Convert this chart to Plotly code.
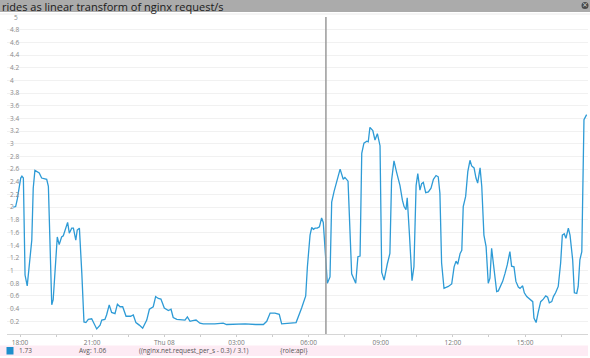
import plotly.graph_objects as go
from datetime import datetime, timedelta

title_text = "rides as linear transform of nginx request/s"

# hours after Wed 2015-01-07 18:00
t_hours = [-0.28, -0.18, -0.11, -0.03, 0.03, 0.08, 0.14, 0.21, 0.30, 0.49, 0.55, 0.62, 0.72, 0.80, 0.90,
           1.04, 1.11, 1.18, 1.32, 1.38, 1.50, 1.55, 1.63, 1.73, 1.80, 1.91, 1.98, 2.05, 2.15, 2.22,
           2.32, 2.38, 2.47, 2.57, 2.66, 2.74, 2.84, 2.98, 3.08, 3.19, 3.33, 3.40, 3.53, 3.60, 3.71,
           3.81, 3.95, 4.05, 4.16, 4.27, 4.41, 4.60, 4.71, 4.82, 4.96, 5.10, 5.27, 5.38, 5.54, 5.64,
           5.75, 5.86, 6.00, 6.17, 6.28, 6.37, 6.52, 6.86, 6.96, 7.07, 7.18, 7.32, 7.48, 7.62, 8.10,
           8.45, 8.59, 9.00, 9.36, 9.80, 10.12, 10.26, 10.40, 10.60, 10.78, 10.88, 11.09, 11.48, 11.71,
           11.88, 11.95, 12.06, 12.13, 12.20, 12.27, 12.36, 12.45, 12.54, 12.61, 12.68, 12.78, 12.89,
           12.96, 13.06, 13.17, 13.31, 13.44, 13.51, 13.64, 13.79, 13.96, 14.05, 14.14, 14.21, 14.30,
           14.42, 14.48, 14.55, 14.67, 14.76, 14.86, 14.97, 15.04, 15.14, 15.27, 15.38, 15.45, 15.55,
           15.66, 15.80, 15.90, 15.97, 16.05, 16.10, 16.19, 16.30, 16.38, 16.47, 16.54, 16.63, 16.70,
           16.77, 16.87, 16.98, 17.09, 17.19, 17.30, 17.39, 17.46, 17.53, 17.63, 17.81, 17.95, 18.05,
           18.13, 18.20, 18.30, 18.37, 18.43, 18.53, 18.62, 18.71, 18.78, 18.88, 18.96, 19.03, 19.13,
           19.20, 19.29, 19.38, 19.47, 19.54, 19.61, 19.71, 19.82, 19.89, 19.99, 20.07, 20.17, 20.26,
           20.37, 20.44, 20.54, 20.62, 20.72, 20.79, 20.90, 20.97, 21.07, 21.21, 21.32, 21.37, 21.46,
           21.55, 21.65, 21.76, 21.86, 21.94, 22.01, 22.11, 22.18, 22.27, 22.38, 22.48, 22.55, 22.63,
           22.70, 22.80, 22.87, 22.98, 23.05, 23.15, 23.21, 23.28, 23.36, 23.45, 23.56]

values = [2.00, 2.01, 2.13, 2.32, 2.46, 2.49, 2.46, 0.93, 0.76, 1.48, 2.30, 2.58, 2.55, 2.54, 2.46,
          2.45, 2.44, 2.33, 0.46, 0.54, 1.17, 1.53, 1.41, 1.53, 1.55, 1.67, 1.76, 1.59, 1.67, 1.67,
          1.48, 1.64, 1.67, 0.96, 0.19, 0.18, 0.23, 0.24, 0.17, 0.08, 0.14, 0.22, 0.23, 0.30, 0.46,
          0.34, 0.32, 0.47, 0.43, 0.43, 0.28, 0.28, 0.30, 0.18, 0.14, 0.09, 0.22, 0.39, 0.43, 0.59,
          0.56, 0.55, 0.41, 0.37, 0.39, 0.26, 0.23, 0.22, 0.27, 0.20, 0.21, 0.22, 0.17, 0.16, 0.16,
          0.17, 0.15, 0.16, 0.16, 0.15, 0.15, 0.20, 0.33, 0.33, 0.31, 0.16, 0.17, 0.18, 0.41,
          0.60, 1.06, 1.56, 1.68, 1.65, 1.67, 1.67, 1.69, 1.83, 1.76, 1.35, 0.80, 0.90,
          2.08, 2.25, 2.41, 2.60, 2.44, 2.47, 2.41, 0.95, 0.80, 1.22, 1.23, 2.85, 3.01,
          3.04, 3.03, 3.26, 3.21, 3.06, 3.16, 2.97, 0.97, 0.85, 1.10, 1.27, 2.42, 2.73,
          2.55, 2.34, 2.11, 2.01, 1.96, 2.15, 1.59, 0.84, 1.06, 2.34, 2.53, 2.27, 2.37,
          2.39, 2.23, 2.24, 2.30, 2.44, 2.50, 2.48, 2.22, 1.12, 0.72, 0.75, 0.79, 1.06,
          1.15, 1.10, 1.27, 1.32, 2.01, 2.17, 2.56, 2.74, 2.65, 2.62, 2.46, 2.38, 2.62,
          2.33, 1.56, 1.38, 0.80, 0.88, 1.35, 1.01, 0.67, 0.68, 0.77, 0.83, 0.96, 1.09,
          1.30, 1.07, 1.06, 0.83, 0.74, 0.72, 0.76, 0.65, 0.59, 0.54, 0.51, 0.25, 0.18,
          0.35, 0.51, 0.55, 0.60, 0.58, 0.49, 0.51, 0.59, 0.65, 0.75, 1.12, 1.56, 1.58,
          1.51, 1.67, 1.56, 1.17, 0.65, 0.64, 0.75, 1.17, 1.30, 3.38, 3.46]

x_tick_labels = ["18:00", "", "21:00", "", "Thu 08", "", "03:00", "", "06:00", "", "09:00", "", "12:00", "", "15:00", ""]
y_tick_values = [round(0.2 * i, 1) for i in range(26)]
y_tick_labels = [("%g" % v) for v in y_tick_values]
marker_hour = 12.72

legend_value = "1.73"
legend_avg = "Avg: 1.06"
legend_query = "((nginx.net.request_per_s - 0.3) / 3.1)"
legend_scope = "{role:api}"

base = datetime(2015, 1, 7, 18, 0)
xs = [base + timedelta(hours=h) for h in t_hours]
tickvals = [base + timedelta(hours=1.5 * k) for k in range(len(x_tick_labels))]

W, H = 590, 358
L, R, T, B = 7, 2, 17, 24
pw, ph = W - L - R, H - T - B
h0 = (L - 20) / 24.05
h1 = (W - R - 20) / 24.05


def px(x):
    return (x - L) / pw


def py(y):
    return (H - B - y) / ph


fig = go.Figure()
fig.add_trace(go.Scatter(x=xs, y=values, mode="lines",
                         line=dict(color="#2e9bd6", width=1.3), hoverinfo="skip", showlegend=False))

shapes = [
    # marker vertical line
    dict(type="line", xref="x", yref="paper", x0=base + timedelta(hours=marker_hour),
         x1=base + timedelta(hours=marker_hour), y0=0, y1=1, line=dict(color="#9a9a9a", width=1.5)),
    # title bar
    dict(type="rect", xref="paper", yref="paper", x0=px(0), x1=px(W), y0=py(12), y1=py(0),
         fillcolor="#ababab", line=dict(width=0), layer="above"),
    dict(type="line", xref="paper", yref="paper", x0=px(0), x1=px(W), y0=py(14), y1=py(14),
         line=dict(color="#ececec", width=1)),
    # legend band
    dict(type="rect", xref="paper", yref="paper", x0=px(0), x1=px(588), y0=py(356), y1=py(345.5),
         fillcolor="#fdebf4", line=dict(width=0)),
    dict(type="rect", xref="paper", yref="paper", x0=px(6.5), x1=px(13.5), y0=py(354.5), y1=py(347),
         fillcolor="#1e8fcc", line=dict(width=0)),
    # close icon
    dict(type="circle", xref="paper", yref="paper", x0=px(581.5), x1=px(588.5), y0=py(9), y1=py(2),
         fillcolor="#4a4a4a", line=dict(width=0), layer="above"),
]

annotations = [
    dict(text=title_text, xref="paper", yref="paper", x=px(0), y=py(6.8), xanchor="left", yanchor="middle",
         showarrow=False, font=dict(family="Open Sans", size=11, color="#1a1a1a")),
    dict(text="×", xref="paper", yref="paper", x=px(585), y=py(5.3), xanchor="center", yanchor="middle",
         showarrow=False, font=dict(family="DejaVu Sans", size=7, color="#dddddd")),
    # top tick label (5), hidden by plotly because it touches the plot edge
    dict(text=y_tick_labels[-1], xref="paper", yref="y", x=px(12), y=y_tick_values[-1], yshift=-0.5,
         xanchor="left", yanchor="middle", showarrow=False,
         font=dict(family="Open Sans", size=6.5, color="#8a8a8a")),
]
for txt, xpos in [(legend_value, 17), (legend_avg, 76.5), (legend_query, 136.5), (legend_scope, 278)]:
    annotations.append(dict(text=txt, xref="paper", yref="paper", x=px(xpos), y=py(350.8),
                            xanchor="left", yanchor="middle", showarrow=False,
                            font=dict(family="Open Sans", size=6.5, color="#555555")))

fig.update_layout(
    width=W, height=H, margin=dict(l=L, r=R, t=T, b=B),
    paper_bgcolor="white", plot_bgcolor="white",
    shapes=shapes, annotations=annotations,
    xaxis=dict(range=[base + timedelta(hours=h0), base + timedelta(hours=h1)],
               tickvals=tickvals, ticktext=x_tick_labels, ticks="outside", ticklen=2, tickcolor="#cccccc",
               tickfont=dict(family="Open Sans", size=6.5, color="#777777"),
               showgrid=False, showline=True, linecolor="#d6d6d6", linewidth=1, zeroline=False),
    yaxis=dict(range=[0, 5], tickvals=y_tick_values, ticktext=y_tick_labels,
               ticklabelposition="inside", tickfont=dict(family="Open Sans", size=6.5, color="#8a8a8a"),
               showgrid=True, gridcolor="#f1f1f1", gridwidth=1, zeroline=False, showline=False),
)

fig.write_html("out.html")
